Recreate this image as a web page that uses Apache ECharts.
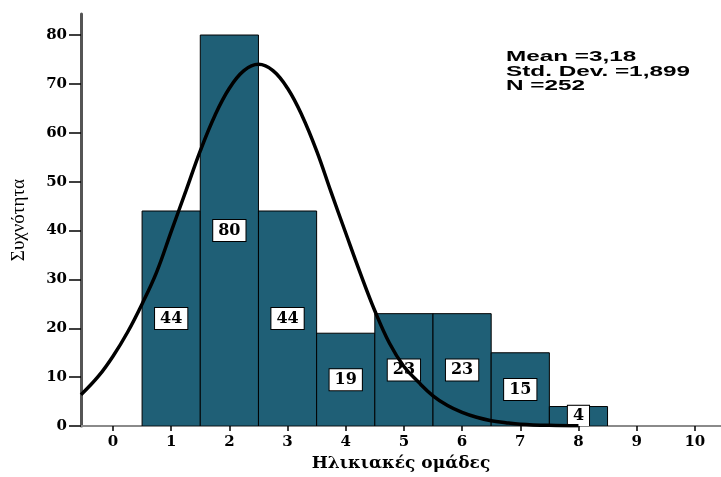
<!DOCTYPE html>
<html>
<head>
<meta charset="utf-8">
<script src="https://cdn.jsdelivr.net/npm/echarts@6/dist/echarts.min.js"></script>
<style>
html,body{margin:0;padding:0;background:#fff;}
#chart{width:721px;height:477px;}
</style>
</head>
<body>
<div id="chart"></div>
<script>
// Histogram: age groups and frequencies
var binCenters = [1, 2, 3, 4, 5, 6, 7, 8];
var frequencies = [44, 80, 44, 19, 23, 23, 15, 4];
// Fitted normal curve
var curveX = [-0.55, -0.25, 0, 0.25, 0.5, 0.75, 1, 1.25, 1.5, 1.75, 2, 2.25, 2.5, 2.75, 3, 3.25, 3.5, 3.75, 4, 4.25, 4.5, 4.75, 5, 5.25, 5.5, 5.75, 6, 6.25, 6.5, 6.75, 7, 7.5, 8];
var curveY = [6.4, 10.2, 14.3, 19.2, 25.0, 31.5, 39.8, 48.0, 56.3, 63.5, 69.1, 72.7, 74.0, 72.7, 69.1, 63.5, 56.3, 47.8, 39.5, 31.3, 23.6, 17.0, 12.2, 9.0, 6.2, 4.2, 2.8, 1.8, 1.1, 0.7, 0.4, 0.15, 0.05];
var xTicks = [0, 1, 2, 3, 4, 5, 6, 7, 8, 9, 10];
var yTicks = [0, 10, 20, 30, 40, 50, 60, 70, 80];
var statsLines = ['Mean =3,18', 'Std. Dev. =1,899', 'N =252'];
var xTitle = 'Ηλικιακές ομάδες';
var yTitle = 'Συχνότητα';

var barData = binCenters.map(function (c, i) { return [c, frequencies[i]]; });
var curveData = curveX.map(function (x, i) { return [x, curveY[i]]; });

var serifBold = 'bold 16px "DejaVu Serif"';

var chart = echarts.init(document.getElementById('chart'), null, {renderer: 'canvas'});
chart.setOption({
  animation: false,
  backgroundColor: '#fff',
  grid: {left: 81, right: 0, top: 14, bottom: 49, containLabel: false},
  xAxis: {
    type: 'value',
    min: -0.55,
    max: 10.45,
    name: xTitle,
    nameLocation: 'middle',
    nameGap: 28,
    nameTextStyle: {fontFamily: 'DejaVu Serif', fontWeight: 'bold', fontSize: 17, color: '#000'},
    axisLine: {show: true, onZero: false, lineStyle: {color: '#8a8a8a', width: 2}},
    axisTick: {show: true, length: 5, customValues: xTicks, lineStyle: {color: '#000', width: 1.5}},
    axisLabel: {customValues: xTicks, margin: 9, fontFamily: 'DejaVu Serif', fontWeight: 'bold', fontSize: 15, color: '#000'},
    splitLine: {show: false}
  },
  yAxis: {
    type: 'value',
    min: 0,
    max: 84.3,
    name: yTitle,
    nameLocation: 'middle',
    nameGap: 52,
    nameTextStyle: {fontFamily: 'Liberation Serif', fontSize: 19, color: '#000'},
    axisLine: {show: true, onZero: false, lineStyle: {color: '#555', width: 3}},
    axisTick: {show: true, length: 12, customValues: yTicks, lineStyle: {color: '#000', width: 1.5}},
    axisLabel: {customValues: yTicks, margin: 14, fontFamily: 'DejaVu Serif', fontWeight: 'bold', fontSize: 15, color: '#000'},
    splitLine: {show: false}
  },
  series: [
    {
      type: 'custom',
      z: 2,
      data: barData,
      clip: true,
      renderItem: function (params, api) {
        var c = api.value(0), v = api.value(1);
        var p1 = api.coord([c - 0.5, v]);
        var p2 = api.coord([c + 0.5, 0]);
        return {
          type: 'rect',
          shape: {x: p1[0], y: p1[1], width: p2[0] - p1[0], height: p2[1] - p1[1]},
          style: {fill: '#1f5f76', stroke: '#000', lineWidth: 1},
          textContent: {
            style: {
              text: String(v),
              font: serifBold,
              fill: '#000',
              backgroundColor: '#fff',
              borderColor: '#000',
              borderWidth: 1,
              padding: [3, 5, 2, 5]
            }
          },
          textConfig: {position: 'inside'}
        };
      }
    },
    {
      type: 'line',
      z: 5,
      data: curveData,
      smooth: 0.4,
      symbol: 'none',
      lineStyle: {color: '#000', width: 3.5}
    }
  ],
  graphic: [
    {
      type: 'text',
      x: 506,
      y: 50,
      scaleX: 1.62,
      z: 10,
      style: {
        text: statsLines.join('\n'),
        font: 'bold 15px "Liberation Sans"',
        lineHeight: 14.5,
        fill: '#000'
      }
    }
  ]
});
</script>
</body>
</html>
